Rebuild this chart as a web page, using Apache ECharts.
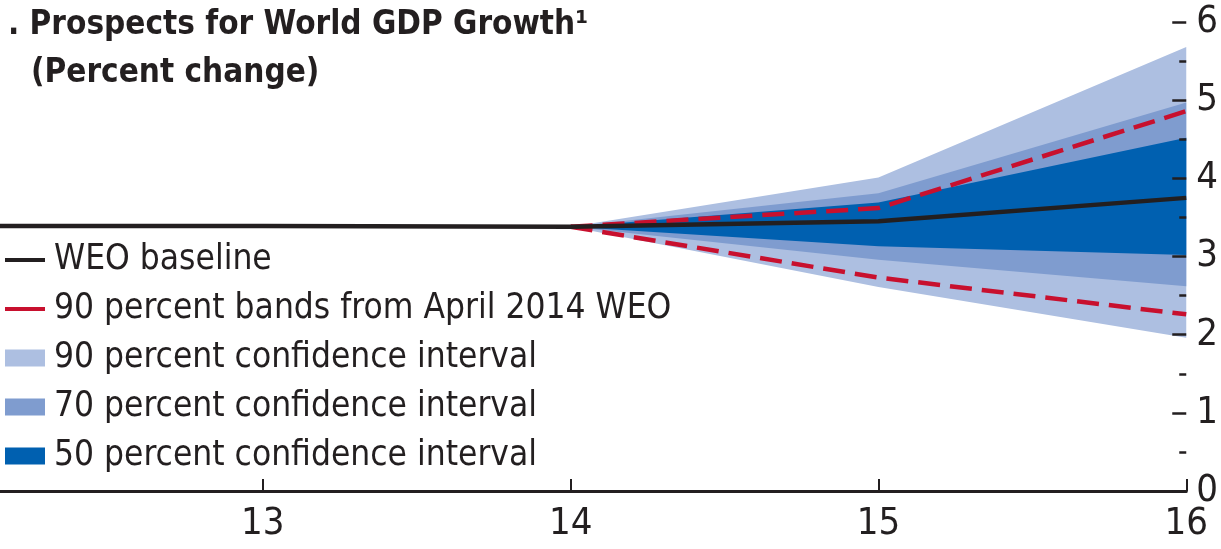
<!DOCTYPE html>
<html>
<head>
<meta charset="utf-8">
<script src="https://cdn.jsdelivr.net/npm/echarts@6/dist/echarts.min.js"></script>
<style>
html,body{margin:0;padding:0;background:#fff;}
#chart{width:1221px;height:549px;}
</style>
</head>
<body>
<div id="chart"></div>
<script>
// ---- data ----
const histYears = [12, 13, 14, 15, 16];
const baseline = [3.39, 3.39, 3.38, 3.45, 3.75];
const fanYears = [14, 15, 16];
const ci90Low = [3.38, 2.61, 1.96];
const ci90High = [3.38, 4.01, 5.68];
const ci70Low = [3.38, 2.96, 2.62];
const ci70High = [3.38, 3.81, 4.97];
const ci50Low = [3.38, 3.13, 3.02];
const ci50High = [3.38, 3.69, 4.52];
const aprilLow = [3.38, 2.73, 2.26];
const aprilHigh = [3.38, 3.62, 4.86];
const xTickValues = [13, 14, 15, 16];
const xMin = 12.146, xMax = 16;

const titleText = '. Prospects for World GDP Growth\u00B9';
const subtitleText = '(Percent change)';
const names = {
  base: 'WEO baseline',
  april: '90 percent bands from April 2014 WEO',
  c90: '90 percent confidence interval',
  c70: '70 percent confidence interval',
  c50: '50 percent confidence interval'
};

const FONT = '"Liberation Sans Narrow", "DejaVu Sans Condensed", "Arial Narrow", sans-serif';
const C90 = '#adbfe1', C70 = '#7f9ccf', C50 = '#0060b0', RED = '#c8102e', BLACK = '#231f20';

const pair = (xs, ys) => xs.map((x, i) => [x, ys[i]]);

function band(name, lo, hi, color) {
  const rows = fanYears.map((x, i) => [x, lo[i], hi[i]]);
  return {
    type: 'custom', name: name, data: rows, z: 1,
    itemStyle: { color: color },
    encode: { x: 0, y: [1, 2] },
    renderItem: function (params, api) {
      if (params.dataIndex !== 0) return null;
      const top = rows.map(r => api.coord([r[0], r[2]]));
      const bot = rows.map(r => api.coord([r[0], r[1]])).reverse();
      return {
        type: 'polygon',
        shape: { points: top.concat(bot) },
        style: { fill: color, stroke: null }
      };
    }
  };
}

const chart = echarts.init(document.getElementById('chart'), null, { renderer: 'canvas' });
chart.setOption({
  animation: false,
  backgroundColor: '#fff',
  title: [
    { text: titleText, left: 3, top: 4,
      textStyle: { fontFamily: FONT, fontWeight: 'bold', fontSize: 33, color: BLACK } },
    { text: subtitleText, left: 26, top: 52,
      textStyle: { fontFamily: FONT, fontWeight: 'bold', fontSize: 33, color: BLACK } }
  ],
  legend: {
    orient: 'vertical', left: 0, top: 235,
    itemWidth: 40, itemHeight: 17, itemGap: 9,
    textStyle: { fontFamily: FONT, fontSize: 35, color: BLACK, lineHeight: 40, padding: [0, 0, 0, 4] },
    data: [
      { name: names.base, icon: 'path://M0,0L40,0L40,4L0,4Z', itemStyle: { color: BLACK } },
      { name: names.april, icon: 'path://M0,0L40,0L40,4L0,4Z', itemStyle: { color: RED } },
      { name: names.c90, icon: 'rect', itemStyle: { color: C90 } },
      { name: names.c70, icon: 'rect', itemStyle: { color: C70 } },
      { name: names.c50, icon: 'rect', itemStyle: { color: C50 } }
    ],
    selectedMode: false
  },
  grid: { left: 0, right: 34, top: 22, bottom: 58, containLabel: false },
  xAxis: {
    type: 'value', min: xMin, max: xMax, z: 10,
    axisLine: { show: true, lineStyle: { color: BLACK, width: 3 } },
    axisTick: { show: true, inside: true, length: 12, customValues: xTickValues, lineStyle: { color: BLACK, width: 2 } },
    axisLabel: { customValues: xTickValues, fontFamily: FONT, fontSize: 38, color: BLACK, margin: 14 },
    splitLine: { show: false }
  },
  yAxis: {
    type: 'value', position: 'right', min: 0, max: 6, interval: 1, z: 10, zlevel: 1,
    axisLine: { show: false },
    axisTick: { show: true, inside: true, length: 14, lineStyle: { color: BLACK, width: 2.5 } },
    minorTick: { show: true, splitNumber: 2, length: 7, lineStyle: { color: BLACK, width: 2.5 } },
    axisLabel: { fontFamily: FONT, fontSize: 38, color: BLACK, margin: 10, verticalAlign: 'middle' },
    splitLine: { show: false }, minorSplitLine: { show: false }
  },
  series: [
    band(names.c90, ci90Low, ci90High, C90),
    band(names.c70, ci70Low, ci70High, C70),
    band(names.c50, ci50Low, ci50High, C50),
    { type: 'line', name: names.april, data: pair(fanYears, aprilHigh), symbol: 'none',
      itemStyle: { color: RED }, lineStyle: { color: RED, width: 4.5, type: [22, 10] }, z: 3 },
    { type: 'line', name: names.april, data: pair(fanYears, aprilLow), symbol: 'none',
      itemStyle: { color: RED }, lineStyle: { color: RED, width: 4.5, type: [22, 10] }, z: 3 },
    { type: 'line', name: names.base, data: pair(histYears, baseline), symbol: 'none', clip: true,
      itemStyle: { color: BLACK }, lineStyle: { color: BLACK, width: 4.5 }, z: 4 }
  ]
});
</script>
</body>
</html>
